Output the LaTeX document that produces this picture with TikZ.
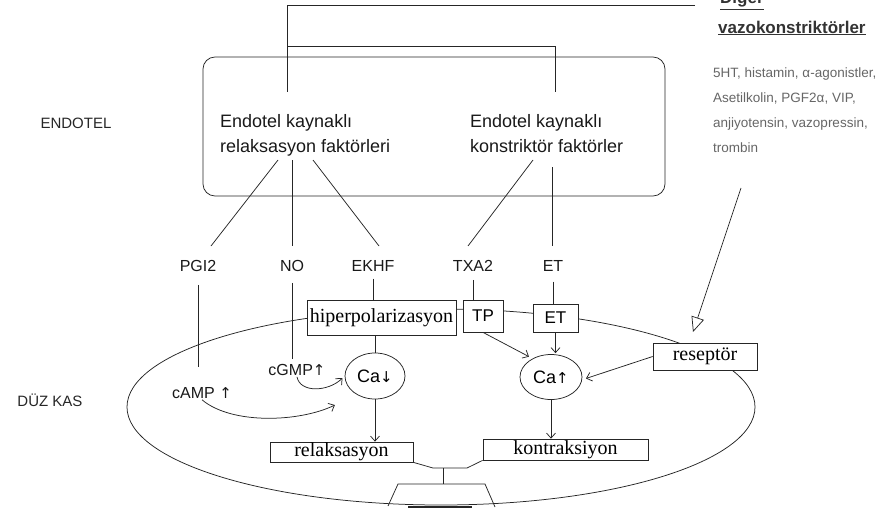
\documentclass[tikz,border=0pt]{standalone}
\usepackage{fontspec}
\setmainfont{Liberation Sans}
\newfontfamily\serifrm{Liberation Serif}
\newfontfamily\dv{DejaVu Sans}
\usetikzlibrary{arrows.meta,shapes.geometric}
\begin{document}
\begin{tikzpicture}[x=1pt,y=-1pt,
 ln/.style={draw=black!85,line width=0.75pt},
 arr/.style={ln,-{Straight Barb[length=5pt,width=9pt]}},
 lbl/.style={font=\fontsize{16}{18}\selectfont,inner sep=1pt,text=black!90},
 ftxt/.style={font=\fontsize{18}{25}\selectfont,align=left,inner sep=0pt,anchor=north west,text=black!90},
 mbox/.style={ln,fill=white,inner sep=0pt,font=\serifrm\fontsize{20}{21}\selectfont},
 sbox/.style={ln,fill=white,inner sep=0pt,font=\fontsize{17}{18}\selectfont},
 caell/.style={ln,ellipse,fill=white,inner sep=0pt,font=\fontsize{18}{19}\selectfont},
 side/.style={font=\fontsize{15}{16}\selectfont,text=black!85,inner sep=0pt},
 list/.style={font=\fontsize{13.5}{16}\selectfont,text=black!60,anchor=base west,inner sep=0pt},
 head/.style={font=\bfseries\fontsize{17}{18}\selectfont,text=black!80,anchor=base west,inner sep=0pt},
]
\useasboundingbox (0,0) rectangle (880,514);

% right-hand texts
\node[head] (diger) at (720,4) {\underline{Diğer}};
\node[head] (vazo) at (718,33) {\underline{vazokonstriktörler}};
\node[list] (l1) at (713,77) {5HT, histamin, α-agonistler,};
\node[list] (l2) at (713,102) {Asetilkolin, PGF2α, VIP,};
\node[list] (l3) at (713,127) {anjiyotensin, vazopressin,};
\node[list] (l4) at (713,152) {trombin};

% side labels
\node[side] (endotel) at (76,123) {ENDOTEL};
\node[side] (duzkas) at (50,400) {DÜZ KAS};

% top connector lines
\coordinate (t0) at (287,5);
\coordinate (t1) at (695,5);
\coordinate (t2) at (287,92);
\coordinate (t3) at (287,46);
\coordinate (t4) at (555,46);
\coordinate (t5) at (555,92);
\draw[ln] (t1) -- (t0) -- (t2);
\draw[ln] (t3) -- (t4) -- (t5);

% endothelium box
\node[ln,rounded corners=12pt,minimum width=462pt,minimum height=139pt,inner sep=0pt] (endo) at (434,126.5) {};
\node[ftxt] (rf) at (220,114) {Endotel kaynaklı\\relaksasyon faktörleri};
\node[ftxt] (kf) at (470,114) {Endotel kaynaklı\\konstriktör faktörler};

% lines from box texts to mediators
\coordinate (a1) at (278,160); \coordinate (b1) at (211,246);
\coordinate (a2) at (292,160); \coordinate (b2) at (292,246);
\coordinate (a3) at (313,160); \coordinate (b3) at (379,246);
\coordinate (a4) at (533,160); \coordinate (b4) at (468,246);
\coordinate (a5) at (552,167); \coordinate (b5) at (552,246);
\draw[ln] (a1) -- (b1);
\draw[ln] (a2) -- (b2);
\draw[ln] (a3) -- (b3);
\draw[ln] (a4) -- (b4);
\draw[ln] (a5) -- (b5);

% mediators
\node[lbl] (pgi) at (198,266) {PGI2};
\node[lbl] (no) at (292,266) {NO};
\node[lbl] (ekhf) at (373,266) {EKHF};
\node[lbl] (txa) at (473,266) {TXA2};
\node[lbl] (et) at (553,266) {ET};

% smooth muscle cell membrane
\draw[ln] (441,407) ellipse [x radius=314pt, y radius=98pt];

% trapezoid at the bottom
\coordinate (tz1) at (388,506);
\coordinate (tz2) at (398,484);
\coordinate (tz3) at (485,484);
\coordinate (tz4) at (495,507);
\coordinate (trapTop) at (443,484);
\draw[ln] (tz1) -- (tz2) -- (tz3) -- (tz4);
\coordinate (bar1) at (408,507);
\coordinate (bar2) at (472,507);
\draw[draw=black!85,line width=2.5pt] (bar1) -- (bar2);

% membrane boxes
\node[mbox,minimum width=149pt,minimum height=35pt] (hip) at (381.5,317.5) {hiperpolarizasyon};
\node[sbox,minimum width=40pt,minimum height=32pt] (tp) at (483,316) {TP};
\node[sbox,minimum width=45pt,minimum height=28pt] (etb) at (555.5,318) {ET};
\node[mbox,minimum width=104pt,minimum height=27pt] (rec) at (705,356.5) {reseptör};
\node[mbox,minimum width=143pt,minimum height=20pt] (rel) at (341.5,452) {relaksasyon};
\node[mbox,minimum width=165pt,minimum height=21pt] (kon) at (565.5,449.5) {kontraksiyon};

% calcium
\node[caell,minimum width=60pt,minimum height=46pt] (cad) at (375,376) {Ca{\dv\fontsize{15}{16}\selectfont ↓}};
\node[caell,minimum width=62pt,minimum height=45pt] (cau) at (551,377) {Ca{\dv\fontsize{15}{16}\selectfont ↑}};

% second messengers
\node[lbl] (camp) at (202,393) {cAMP {\dv\fontsize{15}{16}\selectfont ↑}};
\node[lbl] (cgmp) at (297,370) {cGMP{\dv\fontsize{15}{16}\selectfont ↑}};

% vertical connectors
\draw[ln,shorten <=12pt,shorten >=19pt] (pgi.south) -- (pgi.south |- camp.north);
\draw[ln,shorten <=10pt,shorten >=4pt] (no.south) -- (no.south |- cgmp.north);
\draw[ln,shorten <=6pt] (ekhf.south) -- (ekhf.south |- hip.north);
\draw[ln,shorten <=7pt] (txa.south) -- (txa.south |- tp.north);
\draw[ln,shorten <=9pt] (et.south) -- (et.south |- etb.north);
\draw[ln] (cad.north |- hip.south) -- (cad.north);

% arrows
\draw[arr,shorten >=4pt] (tp.south) -- (cau.135);
\draw[arr,shorten >=1pt] (etb.south) -- (etb.south |- cau.north);
\draw[arr,shorten >=4pt] (rec.west) -- (cau.-5);
\draw[arr] (cad.south) -- (cad.south |- rel.north);
\draw[arr] (cau.south) -- (cau.south |- kon.north);
\draw[arr,shorten >=3pt] (cgmp.south) .. controls (300,393) and (328,392) .. (cad.west);
\draw[arr,shorten >=24pt] (camp.south) .. controls (232,425) and (300,422) .. (cad.225);

% relaxation / contraction junction
\coordinate (j1) at (433,468);
\coordinate (jm) at (443,468);
\coordinate (j2) at (467,468);
\draw[ln] (rel.south east) -- (j1) -- (j2) -- (kon.south west);
\draw[ln] (jm) -- (trapTop);

% other vasoconstrictors arrow
\coordinate (v1) at (741,188);
\coordinate (v2) at (693,332);
\draw[ln,-{Triangle[open,length=15pt,width=13pt]}] (v1) -- (v2);
\end{tikzpicture}
\end{document}
